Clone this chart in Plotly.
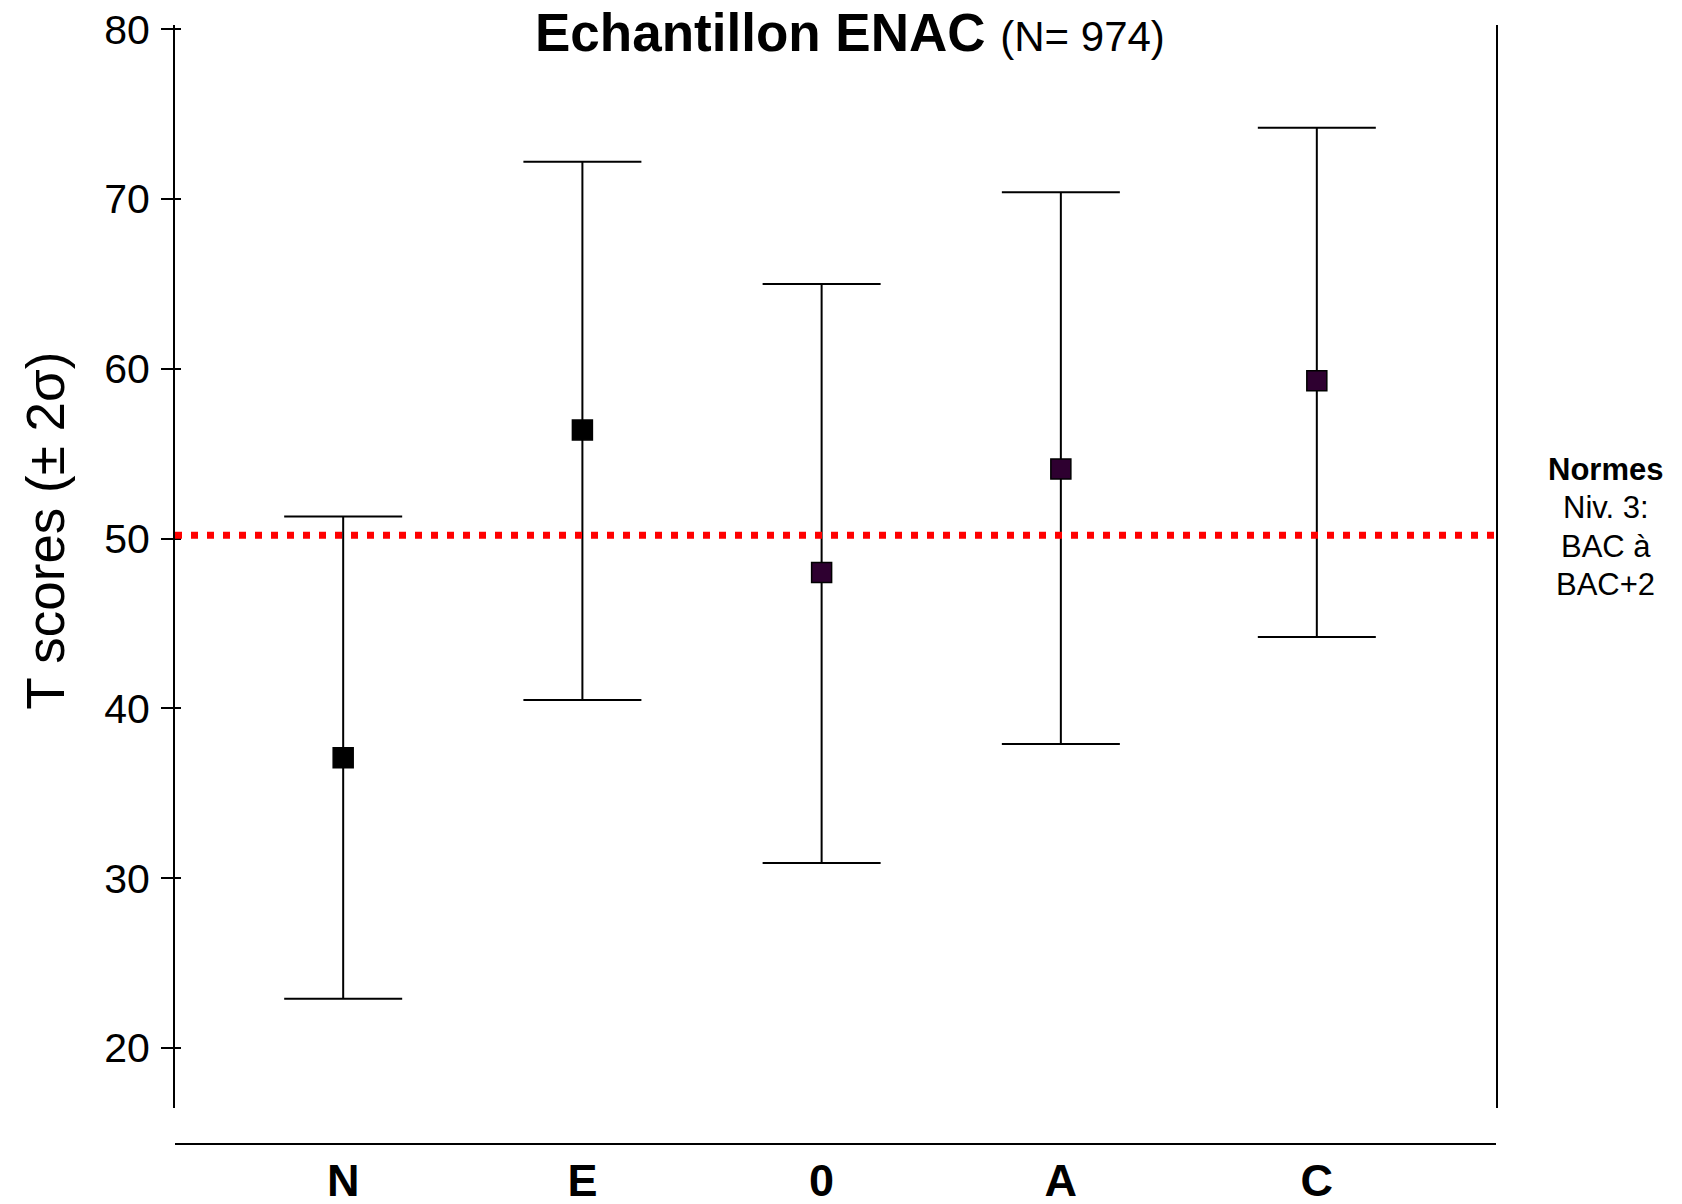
import plotly.graph_objects as go

# ---- data ----
categories = ["N", "E", "0", "A", "C"]
x_positions = [1, 2, 3, 4, 5.07]
means = [37.1, 56.4, 48.0, 54.1, 59.3]
upper = [51.3, 72.2, 65.0, 70.4, 74.2]
lower = [22.9, 40.5, 30.9, 37.9, 44.2]
marker_colors = ["#000000", "#000000", "#2e0030", "#2e0030", "#2e0030"]
norm_value = 50.2
y_ticks = [20, 30, 40, 50, 60, 70, 80]

FONT = "Liberation Sans, Arial, Helvetica, sans-serif"

err_plus = [u - m for u, m in zip(upper, means)]
err_minus = [m - l for m, l in zip(means, lower)]

fig = go.Figure()
fig.add_trace(go.Scatter(
    x=x_positions, y=means, mode="markers",
    marker=dict(symbol="square", size=20, color=marker_colors,
                line=dict(color="#000000", width=1.5)),
    error_y=dict(type="data", symmetric=False, array=err_plus,
                 arrayminus=err_minus, color="#000000", thickness=2, width=59),
    showlegend=False, hoverinfo="skip",
))
# invisible trace to carry the inner-tick overlay axis
fig.add_trace(go.Scatter(x=x_positions, y=means, yaxis="y2", mode="markers",
                         marker=dict(opacity=0), showlegend=False, hoverinfo="skip"))

yrange = [16.45, 80.25]

fig.add_shape(type="line", xref="paper", yref="y", x0=0, x1=1,
              y0=norm_value, y1=norm_value,
              line=dict(color="#ff0000", width=7, dash="7px,9px"))

# page body has an 8px margin, so the figure is offset by 8px
fig.update_layout(
    width=1666, height=1188,
    margin=dict(l=167.3, r=177.5, t=16.75, b=52, autoexpand=False),
    paper_bgcolor="white", plot_bgcolor="white",
    font=dict(family=FONT, color="#000000"),
    xaxis=dict(range=[0.297, 5.819], showline=True, linewidth=2, linecolor="#000000",
               ticks="", tickvals=x_positions,
               ticktext=["<b>%s</b>" % c for c in categories],
               tickfont=dict(size=45, family=FONT, color="#000000"),
               showgrid=False, zeroline=False, anchor="free", position=0,
               ticklabelstandoff=-3, ticklabeloverflow="allow", automargin=False),
    yaxis=dict(range=yrange, domain=[0.0319, 1], showline=True, linewidth=2,
               linecolor="#000000", mirror=True, ticks="outside", ticklen=12,
               tickwidth=2, tickcolor="#000000", tickvals=y_ticks,
               tickfont=dict(size=41, family=FONT, color="#000000"),
               showgrid=False, zeroline=False, automargin=False,
               ticklabelstandoff=3, ticklabeloverflow="allow"),
    yaxis2=dict(range=yrange, overlaying="y", side="left", anchor="x",
                ticks="inside", ticklen=6, tickwidth=2, tickcolor="#000000",
                tickvals=y_ticks, showticklabels=False, showline=False,
                showgrid=False, zeroline=False),
)

# title
fig.add_annotation(
    xref="paper", yref="paper", x=0.2707, y=0.9935, xanchor="left", yanchor="middle",
    text="<b>Echantillon ENAC</b> <span style='font-size:42px'>(N= 974)</span>",
    showarrow=False, font=dict(size=53, family=FONT, color="#000000"),
)
# y-axis title
fig.add_annotation(
    xref="paper", yref="paper", x=-0.0986, y=0.5477, xanchor="center", yanchor="middle",
    text="T scores (± 2σ)", textangle=-90, showarrow=False,
    font=dict(size=53, family=FONT, color="#000000"),
)
# right-hand note
note_lines = ["<b>Normes</b>", "Niv. 3:", "BAC à", "BAC+2"]
note_y = [0.6026, 0.5684, 0.5342, 0.5000]
for t, yy in zip(note_lines, note_y):
    fig.add_annotation(xref="paper", yref="paper", x=1.083, y=yy,
                       xanchor="center", yanchor="middle", text=t, showarrow=False,
                       font=dict(size=31, family=FONT, color="#000000"))

fig.write_html("out.html")
